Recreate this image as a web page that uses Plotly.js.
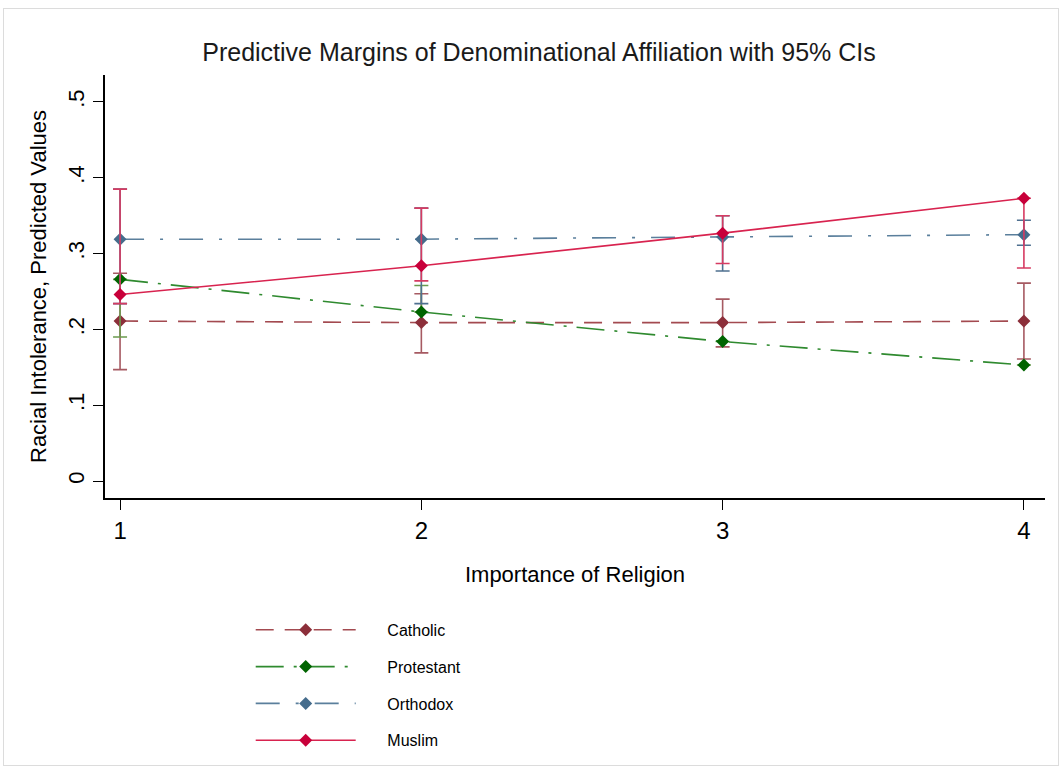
<!DOCTYPE html>
<html>
<head>
<meta charset="utf-8">
<script src="https://cdn.plot.ly/plotly-3.0.1.min.js"></script>
<style>
  body { margin: 0; background: #ffffff; }
  #chart { width: 1061px; height: 769px; }
  #frame { position: absolute; left: 3px; top: 8px; width: 1054px; height: 756px; border: 1px solid #dcdcdc; pointer-events: none; }
</style>
</head>
<body>
<div id="chart"></div>
<div id="frame"></div>
<script>
// Importance of Religion levels
const importance = [1, 2, 3, 4];
const tickLabelsY = ["0", ".1", ".2", ".3", ".4", ".5"];
const tickValsY = [0, 0.1, 0.2, 0.3, 0.4, 0.5];

// Predicted margins
const catholic   = [0.211, 0.209, 0.209, 0.211];
const protestant = [0.266, 0.223, 0.184, 0.153];
const orthodox   = [0.319, 0.319, 0.322, 0.325];
const muslim     = [0.246, 0.284, 0.327, 0.373];

// Visible confidence bounds (lower / upper)
const catholicLo   = [0.147, 0.169, 0.177, 0.161];
const catholicHi   = [0.274, 0.247, 0.240, 0.261];
const protestantLo = [0.190, 0.223, 0.184, 0.153];
const protestantHi = [0.266, 0.258, 0.184, 0.153];
const orthodoxLo   = [0.234, 0.234, 0.277, 0.311];
const orthodoxHi   = [0.385, 0.360, 0.350, 0.344];
const muslimLo     = [0.234, 0.264, 0.287, 0.281];
const muslimHi     = [0.385, 0.360, 0.350, 0.373];

const names = ["Catholic", "Protestant", "Orthodox", "Muslim"];

const FONT = "'Liberation Sans', Arial, sans-serif";
const PAD = "\u00a0\u00a0\u00a0\u00a0\u00a0\u00a0";

function series(name, y, lo, hi, lineColor, markerColor, barColor, dash) {
  return {
    type: "scatter",
    mode: "lines+markers",
    name: PAD + name,
    legendgroup: name,
    x: importance,
    y: y,
    line: { color: lineColor, width: 1.6, dash: dash },
    marker: { symbol: "diamond", size: 10, color: markerColor },
    error_y: {
      type: "data",
      symmetric: false,
      array: hi.map((h, i) => h - y[i]),
      arrayminus: lo.map((l, i) => y[i] - l),
      color: barColor,
      thickness: 1.6,
      width: 7
    }
  };
}

const data = [
  series(names[0], catholic, catholicLo, catholicHi, "#a34a50", "#8c2f3a", "#a65a62", "18px,11px"),
  series(names[1], protestant, protestantLo, protestantHi, "#2f8a2f", "#006400", "#6b9a4e", "28px,10px,3px,10px"),
  series(names[2], orthodox, orthodoxLo, orthodoxHi, "#5a7f9c", "#456c8c", "#4f7090", "24px,16px,3px,16px"),
  series(names[3], muslim, muslimLo, muslimHi, "#d8234f", "#c8003a", "#d63b62", "solid")
];

const layout = {
  width: 1061,
  height: 769,
  paper_bgcolor: "#ffffff",
  plot_bgcolor: "#ffffff",
  margin: { l: 105, r: 16, t: 75, b: 271, autoexpand: false },
  font: { family: FONT, color: "#000000" },
  title: {
    text: "Predictive Margins of Denominational Affiliation with 95% CIs",
    font: { size: 25, color: "#1a1a1a" },
    x: 0.508, xanchor: "center",
    y: 0.932, yanchor: "middle"
  },
  xaxis: {
    range: [0.95, 4.07],
    tickvals: importance,
    ticktext: importance.map(String),
    showline: true, linecolor: "#000000", linewidth: 1.5,
    ticks: "outside", ticklen: 10, tickwidth: 1.3, tickcolor: "#000000",
    showgrid: false, zeroline: false,
    tickfont: { size: 24 },
    title: { text: "Importance of Religion", font: { size: 22 }, standoff: 24 }
  },
  yaxis: {
    range: [-0.0224, 0.5356],
    tickvals: tickValsY,
    ticktext: tickLabelsY,
    tickangle: -90,
    showline: true, linecolor: "#000000", linewidth: 1.5,
    ticks: "outside", ticklen: 10, tickwidth: 1.3, tickcolor: "#000000",
    showgrid: false, zeroline: false,
    tickfont: { size: 22 },
    title: { text: "Racial Intolerance, Predicted Values", font: { size: 22 }, standoff: 12 }
  },
  showlegend: true,
  legend: {
    x: 0.155, xanchor: "left",
    yref: "container",
    y: 0.203, yanchor: "top",
    orientation: "v",
    itemwidth: 100,
    tracegroupgap: 13,
    font: { size: 16 },
    bgcolor: "rgba(0,0,0,0)"
  }
};

Plotly.newPlot("chart", data, layout, { displayModeBar: false, responsive: false });
</script>
</body>
</html>
